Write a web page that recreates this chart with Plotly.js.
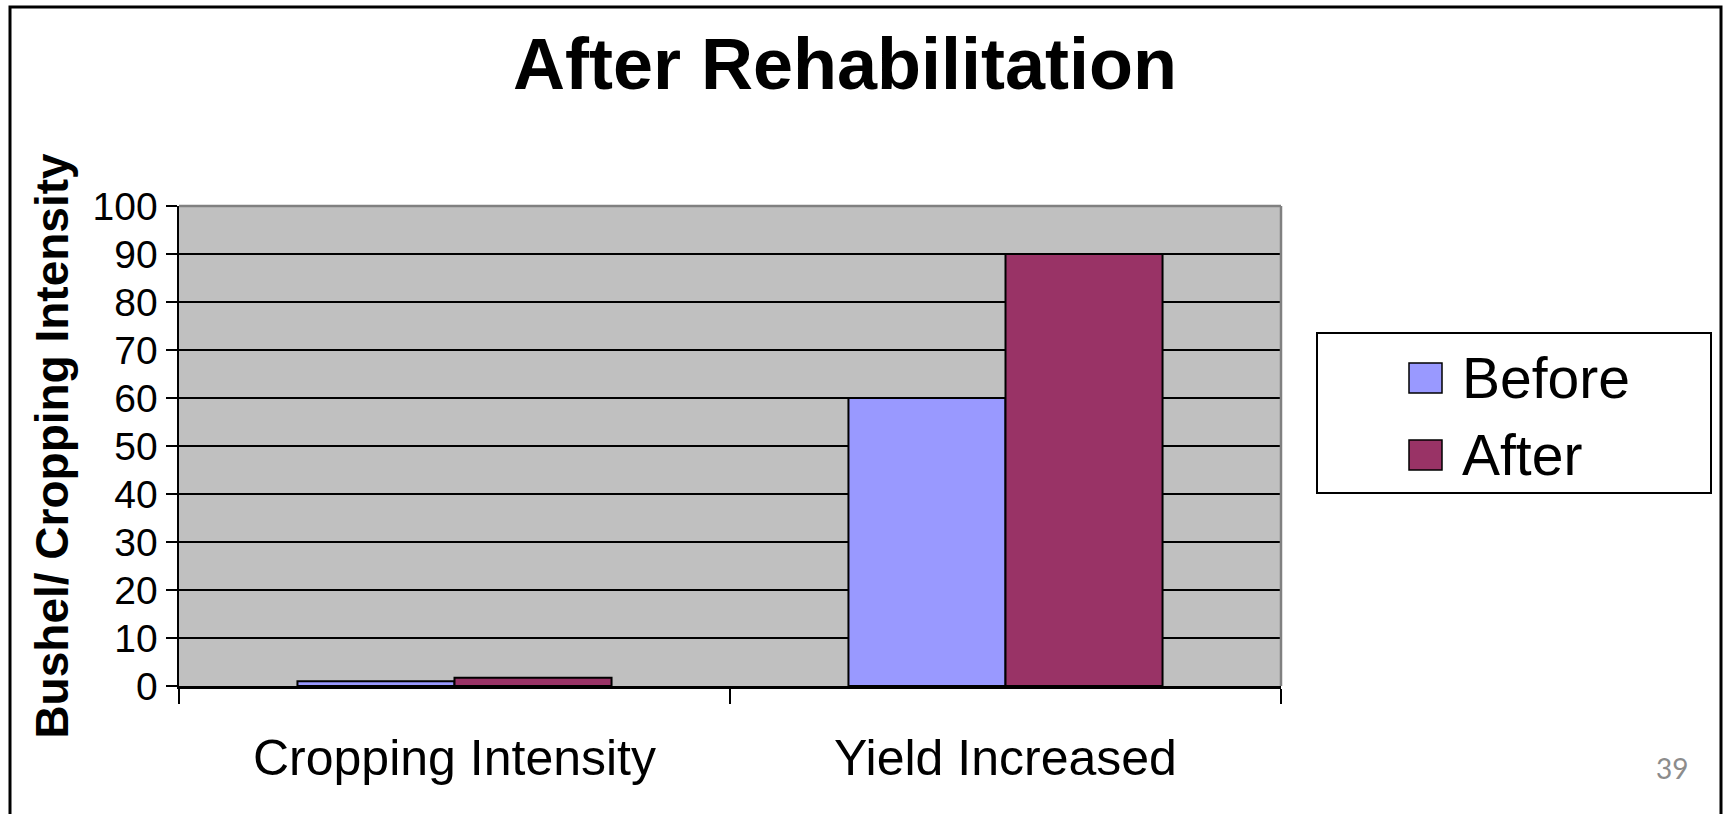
<!DOCTYPE html>
<html>
<head>
<meta charset="utf-8">
<script src="https://cdn.plot.ly/plotly-3.0.1.min.js"></script>
<style>html,body{margin:0;padding:0;background:#fff;}#chart{width:1725px;height:814px;}</style>
</head>
<body>
<div id="chart"></div>
<script>
// ---- data ----
const categories = ["Cropping Intensity", "Yield Increased"];
const seriesNames = ["Before", "After"];
const beforeValues = [1.0, 60];
const afterValues = [1.7, 90];
const yTickValues = [0, 10, 20, 30, 40, 50, 60, 70, 80, 90, 100];
const chartTitle = "After Rehabilitation";
const yTitle = "Bushel/ Cropping Intensity";
const pageNumber = "39";

const colors = ["#9999FF", "#993366"];
const FONT = "'Liberation Sans', Arial, sans-serif";

// plot area geometry (px) used to convert decorations to paper coords
const L = 179, R = 1281, T = 206, B = 686;
const px = x => (x - L) / (R - L);
const py = y => (B - y) / (B - T);

const traces = [
  {type: "bar", name: seriesNames[0], x: categories, y: beforeValues,
   marker: {color: colors[0], line: {color: "#000", width: 2}}, hoverinfo: "x+y+name"},
  {type: "bar", name: seriesNames[1], x: categories, y: afterValues,
   marker: {color: colors[1], line: {color: "#000", width: 2}}, hoverinfo: "x+y+name"}
];

const shapes = [
  // outer frame
  {type: "rect", xref: "paper", yref: "paper", x0: px(10), x1: px(1721), y0: py(840), y1: py(7),
   line: {color: "#000", width: 3}, fillcolor: "rgba(0,0,0,0)", layer: "below"},
  // plot area top & right border (gray)
  {type: "line", xref: "paper", yref: "paper", x0: 0, x1: 1, y0: 1, y1: 1, line: {color: "#808080", width: 2.5}, layer: "above"},
  {type: "line", xref: "paper", yref: "paper", x0: 1, x1: 1, y0: 0, y1: 1, line: {color: "#808080", width: 2.5}, layer: "above"},
  // legend box
  {type: "rect", xref: "paper", yref: "paper", x0: px(1317), x1: px(1711), y0: py(493), y1: py(333),
   line: {color: "#000", width: 2}, fillcolor: "#fff"},
  // legend swatches
  {type: "rect", xref: "paper", yref: "paper", x0: px(1409), x1: px(1442), y0: py(393), y1: py(363),
   line: {color: "#000", width: 1.5}, fillcolor: colors[0]},
  {type: "rect", xref: "paper", yref: "paper", x0: px(1409), x1: px(1442), y0: py(470), y1: py(440),
   line: {color: "#000", width: 1.5}, fillcolor: colors[1]}
];

const annotations = [
  {xref: "paper", yref: "paper", x: px(1460), y: py(378), xanchor: "left", yanchor: "middle",
   text: seriesNames[0], showarrow: false, font: {family: FONT, size: 57, color: "#000"}},
  {xref: "paper", yref: "paper", x: px(1460), y: py(455), xanchor: "left", yanchor: "middle",
   text: seriesNames[1], showarrow: false, font: {family: FONT, size: 57, color: "#000"}},
  {xref: "paper", yref: "paper", x: px(1672), y: py(768), xanchor: "center", yanchor: "middle",
   text: pageNumber, showarrow: false, font: {family: "Lato, 'Open Sans', sans-serif", size: 28, color: "#8c8c8c"}}
];

const layout = {
  width: 1725, height: 814,
  margin: {l: L, r: 1725 - R, t: T, b: 814 - B, pad: 0},
  paper_bgcolor: "#fff",
  plot_bgcolor: "#C0C0C0",
  showlegend: false,
  barmode: "group",
  bargap: 0.43,
  bargroupgap: 0,
  font: {family: FONT, color: "#000"},
  title: {text: "<b>" + chartTitle + "</b>", font: {family: FONT, size: 72, color: "#000"},
          xref: "container", x: 845 / 1725, xanchor: "center",
          yref: "container", y: 1 - 64 / 814, yanchor: "middle"},
  xaxis: {
    type: "category", showgrid: false, zeroline: false,
    showline: true, linecolor: "#000", linewidth: 2.5,
    ticks: "outside", tickson: "boundaries", ticklen: 15, tickwidth: 2.5, tickcolor: "#000",
    tickfont: {family: FONT, size: 50, color: "#000"},
    ticklabelstandoff: 26
  },
  yaxis: {
    range: [0, 100], tickvals: yTickValues, ticktext: yTickValues.map(String),
    showgrid: true, gridcolor: "#000", gridwidth: 2,
    zeroline: false, showline: true, linecolor: "#000", linewidth: 2.5,
    ticks: "outside", ticklen: 11, tickwidth: 2.5, tickcolor: "#000",
    tickfont: {family: FONT, size: 39, color: "#000"},
    title: {text: "<b>" + yTitle + "</b>", font: {family: FONT, size: 46, color: "#000"}, standoff: 10}
  },
  shapes: shapes,
  annotations: annotations
};

Plotly.newPlot("chart", traces, layout, {displayModeBar: false, staticPlot: true});
</script>
</body>
</html>
